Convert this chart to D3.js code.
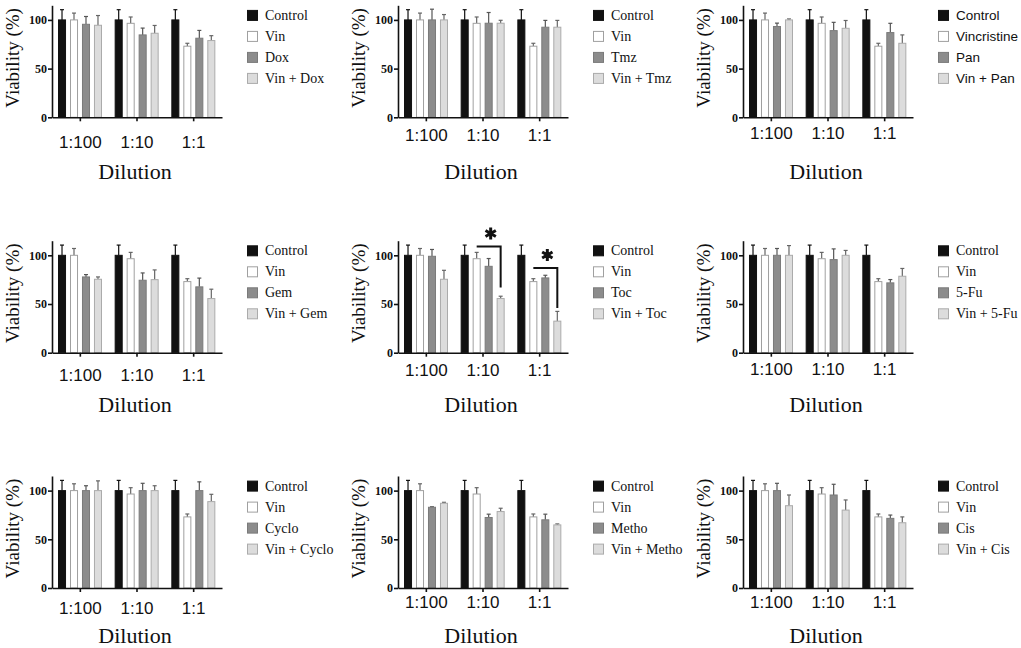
<!DOCTYPE html>
<html>
<head>
<meta charset="utf-8">
<script src="https://cdn.jsdelivr.net/npm/d3@7"></script>
<style>
  body { margin: 0; background: #fff; }
  svg { display: block; }
</style>
</head>
<body>
<svg id="chart"></svg>
<script>
// data (viability %, mean and upper error)
const dilutions = ["1:100", "1:10", "1:1"];
const drugs = ["Dox", "Tmz", "Pan", "Gem", "Toc", "5-Fu", "Cyclo", "Metho", "Cis"];
const vinNames = ["Vin", "Vin", "Vincristine", "Vin", "Vin", "Vin", "Vin", "Vin", "Vin"];

const controlMean = [100, 100, 100];
const controlErr = [10.5, 10.5, 10.5];
const vinMean = [100, 96.5, 73];
const vinErr = [7, 6.5, 3];

const drugMean = [
  [95.5, 84.6, 81.2],
  [100, 96.6, 92.5],
  [93.2, 89, 87],
  [77.8, 74.4, 67.6],
  [99, 88.7, 76.8],
  [100, 95.6, 71.7],
  [100, 100, 100],
  [82.9, 72.4, 70],
  [100, 95.5, 71.5]
];
const drugErr = [
  [8, 7, 8],
  [11, 11, 7],
  [3.5, 8.5, 9.5],
  [2.4, 7.5, 9],
  [7, 8, 2.7],
  [7, 11, 3.4],
  [5, 7.5, 9],
  [0.5, 3.4, 5.8],
  [7.5, 11, 3.4]
];
const comboMean = [
  [94.5, 86.3, 78.8],
  [100, 96.6, 92.5],
  [100, 91.4, 76],
  [75.4, 75, 55.6],
  [75.4, 55.6, 32.4],
  [100, 100, 78.5],
  [100, 100, 88.7],
  [87, 78.5, 64.8],
  [84.5, 80, 67]
];
const comboErr = [
  [10, 8, 5],
  [5.5, 3, 7],
  [1, 8, 8.6],
  [2.4, 10, 9.6],
  [9.2, 2.4, 10],
  [10, 5, 8],
  [10, 5, 7.5],
  [1, 3.4, 1],
  [11, 10.4, 6]
];

// significance brackets (panel index, dilution, bracket top, drop end)
const sigBrackets = [
  { panel: 4, group: "1:10", top: 109, bottom: 67 },
  { panel: 4, group: "1:1", top: 87, bottom: 46 }
];

// layout
const width = 1021, height = 648;
const axisX = [52, 398, 743];
const rowBase = [117.3, 352.7, 588];
const tickOffset = [31, 24, 22, 28, 23, 22, 26, 20, 20];
const dilutionOffset = [62, 59, 55];

const fills = ["#111", "#fff", "#8c8c8c", "#dcdcdc"];
const strokes = ["#111", "#a0a0a0", "#7a7a7a", "#ababab"];
const errColor = ["#111", "#666", "#555", "#666"];

const svg = d3.select("#chart")
  .attr("width", width)
  .attr("height", height);

drugs.forEach((drug, i) => {
  const col = i % 3, row = Math.floor(i / 3);
  const ax = axisX[col];
  const base = rowBase[row];

  const means = [controlMean, vinMean, drugMean[i], comboMean[i]];
  const errs = [controlErr, vinErr, drugErr[i], comboErr[i]];
  const labels = ["Control", vinNames[i], drug, "Vin + " + drug];

  const x0 = d3.scaleBand().domain(dilutions).range([ax, ax + 170]).padding(0);
  const x1 = d3.scaleBand().domain(d3.range(4)).range([6, 50]).paddingInner(0.33);
  const y = d3.scaleLinear().domain([0, 115]).range([base, base - 112]);

  const g = svg.append("g");

  // bars + error bars
  const cells = [];
  means.forEach((m, s) => m.forEach((v, k) => cells.push({ s, k, v, e: errs[s][k] })));

  const cx = d => x0(dilutions[d.k]) + x1(d.s) + x1.bandwidth() / 2;

  g.selectAll("line.err")
    .data(cells)
    .join("line")
    .attr("class", "err")
    .attr("x1", cx).attr("x2", cx)
    .attr("y1", d => y(d.v))
    .attr("y2", d => y(d.v + d.e))
    .attr("stroke", d => errColor[d.s])
    .attr("stroke-width", 1.2);

  g.selectAll("line.cap")
    .data(cells)
    .join("line")
    .attr("class", "cap")
    .attr("x1", d => cx(d) - 2).attr("x2", d => cx(d) + 2)
    .attr("y1", d => y(d.v + d.e))
    .attr("y2", d => y(d.v + d.e))
    .attr("stroke", d => errColor[d.s])
    .attr("stroke-width", 1.2);

  g.selectAll("rect.bar")
    .data(cells)
    .join("rect")
    .attr("class", "bar")
    .attr("x", d => x0(dilutions[d.k]) + x1(d.s) + 0.5)
    .attr("width", x1.bandwidth() - 1)
    .attr("y", d => y(d.v))
    .attr("height", d => y(0) - y(d.v))
    .attr("fill", d => fills[d.s])
    .attr("stroke", d => strokes[d.s])
    .attr("stroke-width", 1);

  // y axis
  const yAxis = g.append("g")
    .attr("transform", `translate(${ax},0)`)
    .call(d3.axisLeft(y).tickValues([0, 50, 100]).tickSize(4).tickSizeOuter(0).tickPadding(1));
  yAxis.selectAll("text")
    .attr("font-family", "'Liberation Serif', serif")
    .attr("font-weight", "bold")
    .attr("font-size", 12)
    .attr("fill", "#111");

  // x axis
  const xAxis = g.append("g")
    .attr("transform", `translate(0,${base})`)
    .call(d3.axisBottom(x0).tickSize(4).tickSizeOuter(0).tickPadding(tickOffset[i] - 16));
  xAxis.selectAll("text")
    .attr("font-family", "'Liberation Sans', Arial, sans-serif")
    .attr("font-size", 17)
    .attr("fill", "#111");

  g.selectAll(".domain, .tick line")
    .attr("stroke", "#111")
    .attr("stroke-width", 1.6);

  // axis titles
  g.append("text")
    .attr("transform", `translate(${ax - 40},${y(61)}) rotate(-90)`)
    .attr("text-anchor", "middle")
    .attr("dy", "0.35em")
    .attr("font-family", "'Liberation Serif', serif")
    .attr("font-size", 19)
    .attr("fill", "#111")
    .text("Viability (%)");

  g.append("text")
    .attr("x", ax + 83)
    .attr("y", base + dilutionOffset[row])
    .attr("text-anchor", "middle")
    .attr("font-family", "'Liberation Serif', serif")
    .attr("font-size", 22)
    .attr("fill", "#111")
    .text("Dilution");

  // legend
  const legend = g.append("g")
    .attr("transform", `translate(${ax + 195},${y(100) - 4.5})`);
  const item = legend.selectAll("g")
    .data(labels)
    .join("g")
    .attr("transform", (d, s) => `translate(0,${s * 21})`);
  item.append("rect")
    .attr("x", 0.5).attr("y", -5)
    .attr("width", 10).attr("height", 10)
    .attr("fill", (d, s) => fills[s])
    .attr("stroke", (d, s) => strokes[s]);
  item.append("text")
    .attr("x", 18)
    .attr("dy", "0.33em")
    .attr("font-family", col === 2 && row === 0 ? "'Liberation Sans', Arial, sans-serif" : "'Liberation Serif', serif")
    .attr("font-size", col === 2 && row === 0 ? 13.5 : 14)
    .attr("fill", "#111")
    .text(d => d);

  // significance brackets
  sigBrackets.filter(b => b.panel === i).forEach(b => {
    const xa = x0(b.group) + x1(1) + x1.bandwidth() / 2;
    const xb = x0(b.group) + x1(3) + x1.bandwidth() / 2;
    g.append("path")
      .attr("d", `M${xa},${y(b.top)}H${xb}V${y(b.bottom)}`)
      .attr("fill", "none")
      .attr("stroke", "#111")
      .attr("stroke-width", 2);
    g.append("path")
      .attr("transform", `translate(${(xa + xb) / 2 + 2},${y(b.top) - 13})`)
      .attr("d", d3.symbol(d3.symbolAsterisk, 100)())
      .attr("fill", "none")
      .attr("stroke", "#111")
      .attr("stroke-width", 3);
  });
});
</script>
</body>
</html>
